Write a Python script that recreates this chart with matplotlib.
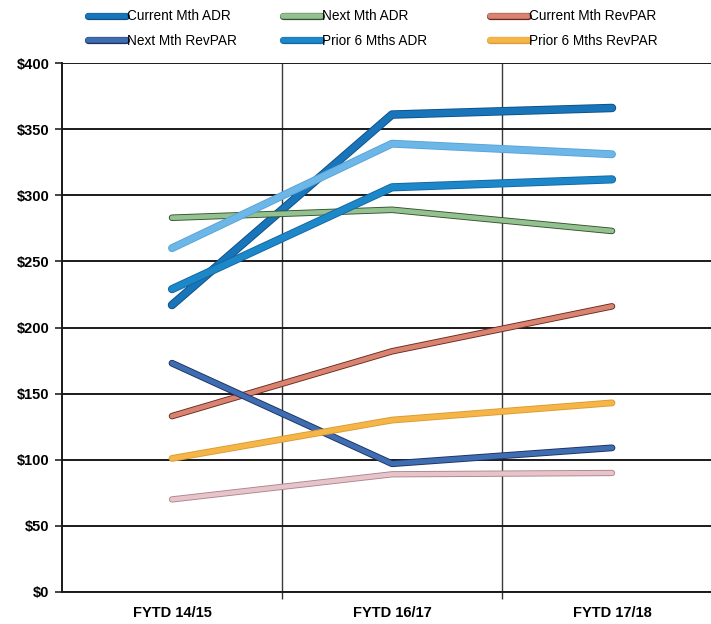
import matplotlib
matplotlib.use("Agg")
import matplotlib.pyplot as plt
import matplotlib.patheffects as pe
from matplotlib.lines import Line2D
from matplotlib import font_manager

categories = ["FYTD 14/15", "FYTD 16/17", "FYTD 17/18"]
cur_adr = [217, 361, 366]
next_adr = [283, 289, 273]
cur_revpar = [133, 182, 216]
next_revpar = [173, 97, 109]
prior_adr = [229, 306, 312]
prior_revpar = [101, 130, 143]
extra_adr = [260, 339, 331]
extra_revpar = [70, 89, 90]
yticks = [0, 50, 100, 150, 200, 250, 300, 350, 400]

names = {f.name for f in font_manager.fontManager.ttflist}
narrow = "Liberation Sans Narrow" if "Liberation Sans Narrow" in names else "Liberation Sans"

fig = plt.figure(figsize=(7.11, 6.24), dpi=100)
ax = fig.add_axes([62/711, 32/624, (722-62)/711, (561-32)/624])

x = list(range(len(categories)))

series = [
    ("Current Mth ADR", cur_adr, "#1875ba", "#0f4f85", 4.8),
    ("Next Mth ADR", next_adr, "#93c190", "#34522f", 3.4),
    ("Current Mth RevPAR", cur_revpar, "#d98470", "#6b2a1f", 3.4),
    ("Next Mth RevPAR", next_revpar, "#3f6db2", "#1d315f", 3.6),
    ("Prior 6 Mths ADR", prior_adr, "#1d88c9", "#1466a0", 4.6),
    ("Prior 6 Mths RevPAR", prior_revpar, "#f6b547", "#d99b35", 3.6),
    (None, extra_adr, "#6cb6e8", "#5aa3d6", 4.4),
    (None, extra_revpar, "#e9c3ca", "#a9878e", 3.2),
]

handles = {}
for label, vals, col, edge, lw in series:
    ln, = ax.plot(x, vals, color=col, lw=lw, solid_capstyle="round",
                  solid_joinstyle="round", zorder=3,
                  path_effects=[pe.Stroke(linewidth=lw + 1.3, foreground=edge), pe.Normal()])
    if label:
        handles[label] = (col, edge, lw)

ax.set_xlim(-0.5, 2.5)
ax.set_ylim(0, 400)
ax.set_yticks(yticks)
ax.set_yticklabels([f"${v}" for v in yticks], fontfamily=narrow, fontweight="bold", fontsize=10.5)
ax.set_xticks(x)
ax.set_xticklabels(categories, fontfamily="Liberation Sans", fontweight="bold", fontsize=10.5)
ax.set_xticks([0.5, 1.5], minor=True)
ax.tick_params(axis="x", which="major", length=0, pad=10)
ax.tick_params(axis="x", which="minor", length=5, width=1.0, color="#333333", direction="out")
ax.tick_params(axis="y", length=5, width=1.2, color="#222222", direction="out", pad=4)

ax.grid(axis="y", which="major", color="#1a1a1a", lw=1.4, zorder=1)
ax.grid(axis="x", which="minor", color="#3a3a3a", lw=1.0, zorder=1)
ax.set_axisbelow(True)
for s in ["top", "right"]:
    ax.spines[s].set_visible(False)
ax.spines["left"].set_color("#1a1a1a")
ax.spines["left"].set_linewidth(1.4)
ax.spines["bottom"].set_color("#1a1a1a")
ax.spines["bottom"].set_linewidth(1.4)

cols = [
    (["Current Mth ADR", "Next Mth RevPAR"], 88),
    (["Next Mth ADR", "Prior 6 Mths ADR"], 283),
    (["Current Mth RevPAR", "Prior 6 Mths RevPAR"], 490),
]
for labs, xp in cols:
    hs = []
    for l in labs:
        col, edge, lw = handles[l]
        hs.append(Line2D([], [], color=col, lw=4.0, solid_capstyle="round",
                         path_effects=[pe.Stroke(linewidth=5.2, foreground=edge), pe.Normal()]))
    fig.legend(hs, labs, loc="upper left", bbox_to_anchor=(xp/711 - 0.012, 0.998),
               frameon=False, handlelength=2.8, handletextpad=0.1,
               labelspacing=0.75, borderaxespad=0.2,
               prop={"family": narrow, "size": 9.8})

fig.savefig("out.png", dpi=100)
